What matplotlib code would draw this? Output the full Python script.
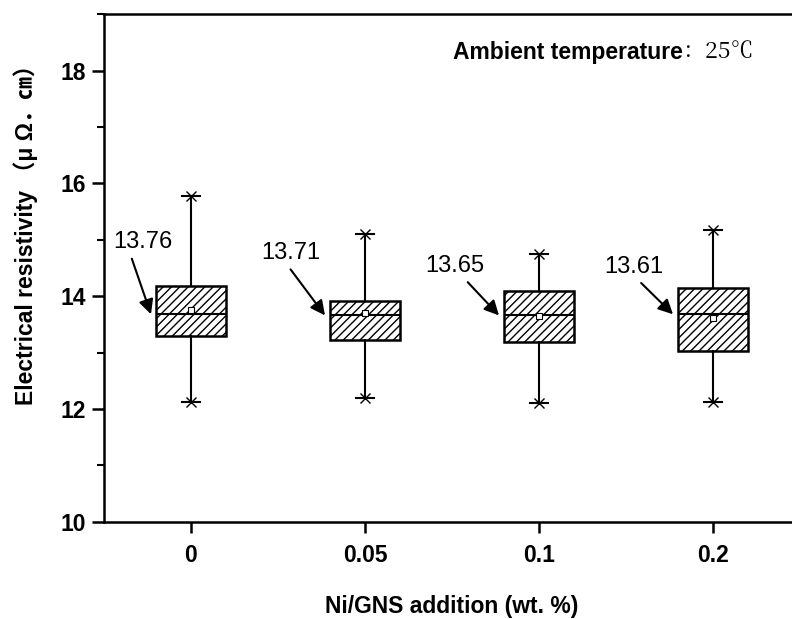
import matplotlib
matplotlib.use('Agg')
import matplotlib.pyplot as plt
from matplotlib.ticker import MultipleLocator

plt.rcParams['font.family'] = ['Liberation Sans', 'Noto Sans CJK SC']
plt.rcParams['hatch.linewidth'] = 1.0

# Box statistics
categories = ['0', '0.05', '0.1', '0.2']
whisker_low = [12.12, 12.19, 12.10, 12.12]
q1 = [13.30, 13.23, 13.19, 13.03]
medians = [13.68, 13.66, 13.66, 13.68]
q3 = [14.18, 13.91, 14.10, 14.14]
whisker_high = [15.77, 15.10, 14.75, 15.18]
means = [13.76, 13.71, 13.65, 13.61]

# annotation layout (pixel offsets of label from arrow tip, arrow start on label)
label_offsets = [(-8, 72), (-34, 62), (-44, 49), (-39, 47)]
arrow_relpos = [(0.28, 0.0), (0.43, 0.0), (0.64, 0.0), (0.54, 0.0)]

positions = [i + 0.5 for i in range(len(categories))]

fig = plt.figure(figsize=(7.92, 6.19), dpi=100)
ax = fig.add_axes([0.1313, 0.157, 0.8788, 0.820])

stats = []
for i in range(len(categories)):
    stats.append(dict(whislo=whisker_low[i], q1=q1[i], med=medians[i], q3=q3[i],
                      whishi=whisker_high[i], mean=means[i], fliers=[]))

ax.bxp(stats, positions=positions, widths=0.4, patch_artist=True, showmeans=True,
       capwidths=0.1,
       boxprops=dict(facecolor='white', edgecolor='black', hatch='////', linewidth=1.8),
       medianprops=dict(color='black', linewidth=1.5),
       whiskerprops=dict(color='black', linewidth=1.5),
       capprops=dict(color='black', linewidth=1.5),
       meanprops=dict(marker='s', markerfacecolor='white', markeredgecolor='black',
                      markersize=5, markeredgewidth=0.8))

# star-like caps
ax.plot(positions, whisker_high, 'x', color='black', ms=7, mew=1.0)
ax.plot(positions, whisker_low, 'x', color='black', ms=7, mew=1.0)

# mean value labels with arrows
for i, p in enumerate(positions):
    ax.annotate(f'{means[i]:.2f}', xy=(p - 0.23, medians[i]), xytext=label_offsets[i],
                textcoords='offset pixels', ha='center', va='center', fontsize=17,
                arrowprops=dict(arrowstyle='-|>', color='black', lw=1.5,
                                mutation_scale=22, shrinkA=2, shrinkB=0,
                                relpos=arrow_relpos[i]))

t1 = ax.text(0.501, 0.925, 'Ambient temperature', transform=ax.transAxes,
             fontsize=16.5, fontweight='bold', ha='left', va='center')
ax.annotate('：25℃', xy=(1, 0.5), xycoords=t1, ha='left', va='center',
            fontsize=16.5, family=['Noto Serif CJK SC', 'Noto Sans CJK SC', 'DejaVu Serif'])

ax.set_xlim(0, 4)
ax.set_ylim(10, 19)
ax.set_xticks(positions)
ax.set_xticklabels(categories)
ax.yaxis.set_major_locator(MultipleLocator(2))
ax.yaxis.set_minor_locator(MultipleLocator(1))

ax.tick_params(axis='y', which='major', direction='out', length=9, width=1.8,
               labelsize=16.5, pad=4)
ax.tick_params(axis='y', which='minor', direction='out', length=5, width=1.5)
ax.tick_params(axis='x', which='major', direction='out', length=8, width=1.8,
               labelsize=16.5, pad=8)
for lbl in ax.get_xticklabels() + ax.get_yticklabels():
    lbl.set_fontweight('bold')

for s in ax.spines.values():
    s.set_linewidth(1.8)

ax.set_xlabel('Ni/GNS addition (wt. %)', fontsize=16.5, fontweight='bold', labelpad=20)
ax.set_ylabel('Electrical resistivity （μ Ω．㎝）', fontsize=16.5, fontweight='bold')
ax.yaxis.set_label_coords(-0.095, 0.577)

fig.savefig('out.png', dpi=100)
